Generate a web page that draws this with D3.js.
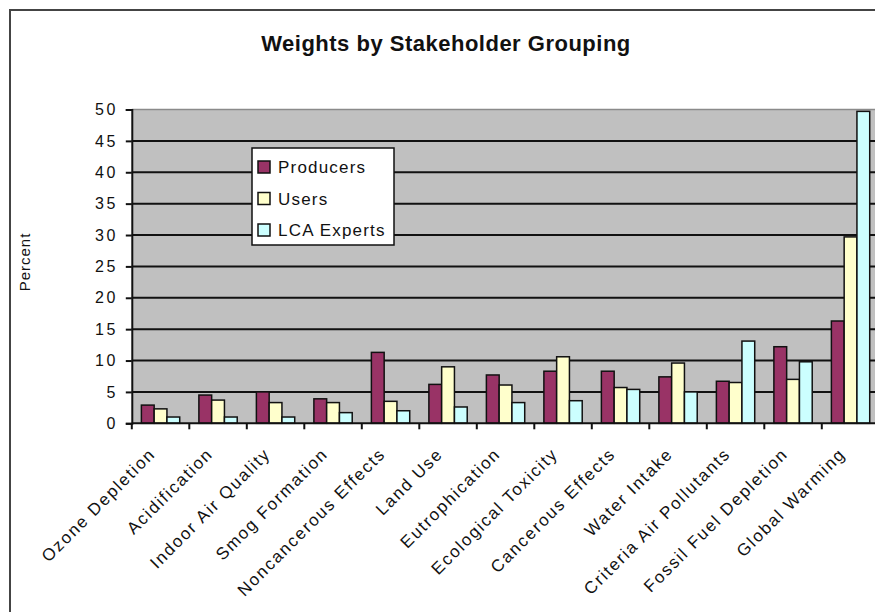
<!DOCTYPE html>
<html>
<head>
<meta charset="utf-8">
<script src="https://cdn.jsdelivr.net/npm/d3@7"></script>
<style>
  html, body { margin: 0; padding: 0; background: #fff; }
  svg { display: block; font-family: "Liberation Sans", Arial, sans-serif; }
</style>
</head>
<body>
<svg id="chart" width="875" height="612"></svg>
<script>
// Impact categories and the weight (percent) each stakeholder group gives them
const categories = [
  "Ozone Depletion", "Acidification", "Indoor Air Quality", "Smog Formation",
  "Noncancerous Effects", "Land Use", "Eutrophication", "Ecological Toxicity",
  "Cancerous Effects", "Water Intake", "Criteria Air Pollutants",
  "Fossil Fuel Depletion", "Global Warming"
];
const seriesNames = ["Producers", "Users", "LCA Experts"];
const producers  = [2.9, 4.5, 5.0, 3.9, 11.3, 6.2, 7.7, 8.3, 8.3, 7.4, 6.7, 12.2, 16.3];
const users      = [2.3, 3.7, 3.3, 3.3, 3.5, 9.0, 6.1, 10.6, 5.7, 9.6, 6.5, 7.0, 29.7];
const lcaExperts = [1.0, 1.0, 1.0, 1.7, 2.0, 2.6, 3.3, 3.6, 5.4, 5.0, 13.1, 9.8, 49.7];
const yTicks = [0, 5, 10, 15, 20, 25, 30, 35, 40, 45, 50];

const seriesValues = [producers, users, lcaExperts];
const colors = ["#993366", "#FFFFCC", "#CCFFFF"];

const svg = d3.select("#chart");

// Chart area frame
svg.append("rect")
  .attr("x", 10).attr("y", 10)
  .attr("width", 880).attr("height", 620)
  .attr("fill", "#fff").attr("stroke", "#444").attr("stroke-width", 2);

const plot = { left: 131.8, top: 109.5, width: 747.5, height: 313.8 };

const x = d3.scaleBand()
  .domain(categories)
  .range([plot.left, plot.left + plot.width])
  .paddingInner(1 / 3)
  .paddingOuter(1 / 6);

const xSub = d3.scaleBand()
  .domain(seriesNames)
  .range([0, x.bandwidth()]);

const y = d3.scaleLinear()
  .domain([0, 50])
  .range([plot.top + plot.height, plot.top]);

// Plot background
svg.append("rect")
  .attr("x", plot.left).attr("y", plot.top)
  .attr("width", plot.width).attr("height", plot.height)
  .attr("fill", "#C0C0C0");

// Horizontal gridlines
svg.append("g")
  .selectAll("line")
  .data(yTicks.filter(d => d > 0))
  .join("line")
  .attr("x1", plot.left).attr("x2", plot.left + plot.width)
  .attr("y1", d => y(d)).attr("y2", d => y(d))
  .attr("stroke", d => d === 50 ? "#8a8a8a" : "#111")
  .attr("stroke-width", d => d === 50 ? 1.5 : 2);

// Bars
const groups = svg.append("g")
  .selectAll("g")
  .data(categories)
  .join("g")
  .attr("transform", d => `translate(${x(d)},0)`);

groups.selectAll("rect")
  .data((c, i) => seriesNames.map((s, k) => ({ s, k, v: seriesValues[k][i] })))
  .join("rect")
  .attr("x", d => xSub(d.s))
  .attr("y", d => y(d.v))
  .attr("width", xSub.bandwidth())
  .attr("height", d => y(0) - y(d.v))
  .attr("fill", d => colors[d.k])
  .attr("stroke", "#111")
  .attr("stroke-width", 1.5);

// Y axis
const yAxis = d3.axisLeft(y)
  .tickValues(yTicks)
  .tickSize(6)
  .tickPadding(8);

const yG = svg.append("g")
  .attr("transform", `translate(${plot.left},0)`)
  .call(yAxis);
yG.select(".domain").attr("stroke", "#111").attr("stroke-width", 2);
yG.selectAll(".tick line").attr("stroke", "#111").attr("stroke-width", 2);
yG.selectAll(".tick text")
  .attr("font-size", 16)
  .attr("letter-spacing", 2.5)
  .attr("fill", "#111")
  .attr("font-family", "Liberation Sans, Arial, sans-serif");

// X axis with tick marks between categories
const xG = svg.append("g");
xG.append("line")
  .attr("x1", plot.left).attr("x2", plot.left + plot.width)
  .attr("y1", y(0)).attr("y2", y(0))
  .attr("stroke", "#111").attr("stroke-width", 2);
xG.selectAll("line.tick")
  .data(d3.range(categories.length + 1))
  .join("line")
  .attr("class", "tick")
  .attr("x1", i => plot.left + i * x.step())
  .attr("x2", i => plot.left + i * x.step())
  .attr("y1", y(0)).attr("y2", y(0) + 6)
  .attr("stroke", "#111").attr("stroke-width", 2);

xG.selectAll("text")
  .data(categories)
  .join("text")
  .attr("transform", d => `translate(${x(d) + x.bandwidth() / 2 - 4},455) rotate(-45)`)
  .attr("text-anchor", "end")
  .attr("font-size", 17)
  .attr("letter-spacing", 1.75)
  .attr("fill", "#111")
  .text(d => d);

// Axis title
svg.append("text")
  .attr("transform", "translate(30,262) rotate(-90)")
  .attr("text-anchor", "middle")
  .attr("font-size", 15)
  .attr("letter-spacing", 1)
  .attr("fill", "#111")
  .text("Percent");

// Chart title
svg.append("text")
  .attr("x", 446).attr("y", 51)
  .attr("text-anchor", "middle")
  .attr("font-size", 22)
  .attr("font-weight", "bold")
  .attr("letter-spacing", 0.5)
  .attr("fill", "#111")
  .text("Weights by Stakeholder Grouping");

// Legend
const legend = svg.append("g");
legend.append("rect")
  .attr("x", 252).attr("y", 148)
  .attr("width", 142).attr("height", 97)
  .attr("fill", "#fff").attr("stroke", "#111").attr("stroke-width", 1.5);

const items = legend.selectAll("g.item")
  .data(seriesNames)
  .join("g")
  .attr("class", "item")
  .attr("transform", (d, i) => `translate(258,${167 + i * 31.5})`);
items.append("rect")
  .attr("x", 0).attr("y", -6)
  .attr("width", 12).attr("height", 12)
  .attr("fill", (d, i) => colors[i])
  .attr("stroke", "#111").attr("stroke-width", 1.5);
items.append("text")
  .attr("x", 20).attr("y", 6)
  .attr("font-size", 17)
  .attr("letter-spacing", 1.2)
  .attr("fill", "#111")
  .text(d => d);
</script>
</body>
</html>
